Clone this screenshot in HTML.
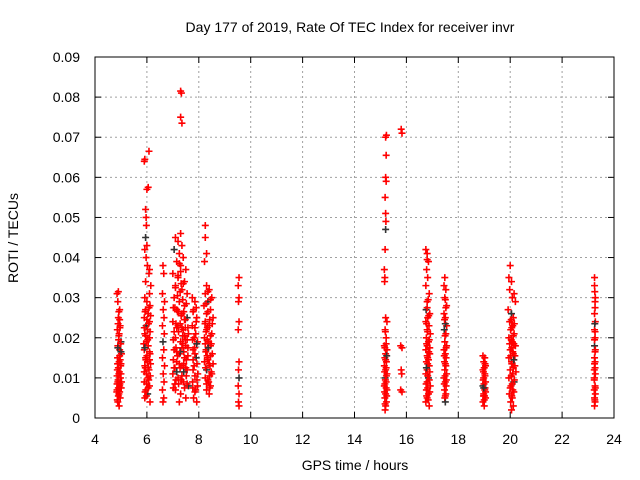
<!DOCTYPE html>
<html><head><meta charset="utf-8"><style>
body{margin:0;background:#fff}
svg{display:block;font-family:"Liberation Sans",sans-serif}
</style></head><body>
<svg id="chart" width="640" height="480" viewBox="0 0 640 480">
<rect width="640" height="480" fill="#fff"/>
<text x="350" y="32" font-size="14" text-anchor="middle">Day 177 of 2019, Rate Of TEC Index for receiver invr</text>
<text transform="translate(18,238) rotate(-90)" font-size="14" text-anchor="middle">ROTI / TECUs</text>
<text x="355" y="470" font-size="14" text-anchor="middle">GPS time / hours</text>
<g id="grid"></g>
<g id="ticks"></g>
<g id="points"></g>
<rect x="95" y="57" width="519" height="361" fill="none" stroke="#000" stroke-width="1"/>
</svg>
<script>
const xTicks=[4,6,8,10,12,14,16,18,20,22,24];
const yTicks=[0,0.01,0.02,0.03,0.04,0.05,0.06,0.07,0.08,0.09];
const yTickLabels=["0","0.01","0.02","0.03","0.04","0.05","0.06","0.07","0.08","0.09"];
const passA=[[4.85,0.031],[4.9,0.0315],[4.88,0.029],[4.95,0.027],[4.9,0.025],[4.97,0.023],[4.86,0.022],[4.93,0.021],[5.0,0.019],[4.88,0.018],[4.95,0.017],[5.02,0.016],[4.87,0.015],[4.93,0.014],[4.99,0.013],[4.86,0.012],[4.92,0.011],[4.98,0.010],[4.88,0.009],[4.95,0.008],[4.85,0.007],[4.92,0.006],[4.97,0.005],[4.88,0.004],[4.93,0.003],[5.0,0.0165],[4.9,0.0125],[4.96,0.0085],[4.9,0.0055],[4.85,0.0105],[4.97,0.0145],[4.91,0.0195],[4.85,0.0085],[5.0,0.011]];
const passA2=[[4.86,0.0045],[4.95,0.0065],[5.01,0.0075],[4.89,0.0095],[4.94,0.0115],[5.0,0.0135],[4.87,0.0135],[4.95,0.0155],[4.88,0.0175],[4.99,0.0185],[4.92,0.0205],[4.96,0.0225],[4.89,0.0235],[4.95,0.0245],[4.92,0.0265],[5.02,0.009],[4.84,0.0065],[4.9,0.0075]];
const passB=[[5.9,0.064],[5.92,0.0645],[6.08,0.0665],[6.0,0.057],[6.05,0.0575],[5.95,0.052],[5.97,0.05],[5.98,0.048],[5.95,0.045],[6.0,0.043],[5.92,0.042],[5.97,0.040],[6.02,0.038],[6.1,0.037],[6.08,0.036],[5.95,0.034],[6.15,0.033],[6.1,0.031],[5.92,0.030],[6.0,0.029],[6.12,0.028],[5.95,0.027],[6.05,0.026],[5.9,0.025],[6.1,0.024],[5.97,0.023],[6.03,0.022],[5.92,0.021],[6.1,0.020],[5.98,0.019],[6.05,0.018],[5.9,0.017],[6.12,0.016],[5.95,0.015],[6.02,0.014],[5.92,0.013],[6.08,0.012],[5.98,0.011],[6.04,0.010],[5.9,0.009],[6.1,0.008],[5.96,0.007],[6.03,0.006],[5.92,0.005],[6.12,0.004],[6.0,0.0155],[5.94,0.0125],[6.07,0.0095],[5.88,0.0185],[6.14,0.0135]];
const passB2=[[5.93,0.0065],[6.05,0.0075],[5.99,0.0085],[6.13,0.0105],[5.9,0.0115],[6.05,0.0125],[5.96,0.0145],[6.1,0.0165],[5.92,0.0175],[6.03,0.0195],[5.95,0.0205],[6.12,0.0215],[5.9,0.0225],[6.06,0.0235],[6.0,0.0245],[6.14,0.0255],[5.93,0.0265],[6.08,0.0275],[5.98,0.0055],[6.1,0.0145]];
const passC=[[6.62,0.038],[6.65,0.036],[6.6,0.031],[6.68,0.029],[6.63,0.027],[6.66,0.025],[6.6,0.023],[6.67,0.021],[6.62,0.019],[6.65,0.017],[6.6,0.015],[6.68,0.013],[6.63,0.011],[6.66,0.009],[6.6,0.007],[6.65,0.005],[6.62,0.004]];
const passD=[[7.3,0.0815],[7.33,0.081],[7.3,0.075],[7.35,0.0735],[7.1,0.045],[7.3,0.046],[7.2,0.044],[7.35,0.043],[7.05,0.042],[7.25,0.041],[7.4,0.040],[7.15,0.039],[7.3,0.038],[7.5,0.037],[7.0,0.036],[7.2,0.035],[7.45,0.034],[7.1,0.033],[7.35,0.032],[7.55,0.031],[7.05,0.030],[7.25,0.029],[7.45,0.028],[7.15,0.027],[7.35,0.026],[7.55,0.025],[7.0,0.024],[7.2,0.023],[7.4,0.022],[7.6,0.021],[7.1,0.020],[7.3,0.019],[7.5,0.018],[7.05,0.017],[7.25,0.016],[7.45,0.015],[7.15,0.014],[7.35,0.013],[7.55,0.012],[7.0,0.011],[7.2,0.010],[7.4,0.009],[7.6,0.008],[7.1,0.007],[7.3,0.006],[7.5,0.005],[7.25,0.004],[7.05,0.0215],[7.12,0.0175],[7.22,0.0265],[7.28,0.0125],[7.38,0.0205],[7.42,0.0165],[7.48,0.0245],[7.52,0.0105],[7.58,0.0155],[7.08,0.0085],[7.18,0.0305],[7.32,0.0335],[7.42,0.0115],[7.02,0.0145],[7.55,0.0195],[7.28,0.0235],[7.15,0.0225],[7.45,0.0075],[7.35,0.0175]];
const passD2=[[7.02,0.0075],[7.12,0.0095],[7.22,0.0085],[7.32,0.0095],[7.42,0.0135],[7.52,0.0145],[7.08,0.0125],[7.18,0.0155],[7.28,0.0165],[7.38,0.0185],[7.48,0.0195],[7.58,0.0225],[7.02,0.0195],[7.12,0.0235],[7.22,0.0215],[7.32,0.0255],[7.42,0.0265],[7.52,0.0285],[7.08,0.0275],[7.18,0.0265],[7.28,0.0315],[7.38,0.0295],[7.48,0.0225],[7.58,0.0175],[7.05,0.0125],[7.15,0.0115],[7.25,0.0135],[7.35,0.0105],[7.45,0.0205],[7.55,0.0085],[7.1,0.0325],[7.2,0.0355],[7.3,0.0365],[7.4,0.0335],[7.25,0.0385],[7.15,0.0165],[7.35,0.0225],[7.45,0.0245],[7.02,0.0275],[7.5,0.0125]];
const passE=[[7.75,0.030],[7.85,0.029],[7.8,0.027],[7.92,0.025],[7.75,0.023],[7.88,0.021],[7.95,0.019],[7.78,0.017],[7.9,0.015],[7.82,0.013],[7.96,0.011],[7.76,0.009],[7.88,0.007],[7.8,0.005],[7.92,0.004],[7.85,0.016],[7.78,0.012],[7.95,0.008],[7.82,0.020],[7.9,0.024]];
const passE2=[[7.85,0.0065],[7.77,0.0075],[7.93,0.0095],[7.85,0.0105],[7.78,0.0145],[7.93,0.0135],[7.84,0.0175],[7.76,0.0195],[7.92,0.0185],[7.85,0.0225],[7.78,0.0265],[7.9,0.0275]];
const passF=[[8.25,0.048],[8.25,0.045],[8.3,0.041],[8.22,0.039],[8.3,0.033],[8.4,0.032],[8.25,0.031],[8.5,0.030],[8.35,0.029],[8.2,0.028],[8.45,0.027],[8.3,0.026],[8.55,0.025],[8.25,0.024],[8.4,0.023],[8.3,0.022],[8.5,0.021],[8.22,0.020],[8.38,0.019],[8.45,0.018],[8.28,0.017],[8.52,0.016],[8.33,0.015],[8.22,0.014],[8.43,0.013],[8.3,0.012],[8.5,0.011],[8.25,0.010],[8.38,0.009],[8.45,0.008],[8.3,0.007],[8.4,0.006],[8.35,0.0145],[8.48,0.0185],[8.27,0.0165],[8.42,0.0105],[8.33,0.0225],[8.55,0.0135]];
const passF2=[[8.3,0.0085],[8.42,0.0075],[8.35,0.0095],[8.48,0.0115],[8.26,0.0125],[8.4,0.0135],[8.32,0.0155],[8.45,0.0155],[8.36,0.0175],[8.25,0.0185],[8.45,0.0205],[8.32,0.0195],[8.28,0.0215],[8.42,0.0245],[8.35,0.0265],[8.28,0.0285],[8.45,0.0295],[8.35,0.0315],[8.52,0.0235],[8.24,0.0235]];
const passG=[[9.55,0.035],[9.52,0.033],[9.55,0.030],[9.53,0.029],[9.55,0.024],[9.52,0.022],[9.55,0.014],[9.53,0.012],[9.55,0.010],[9.52,0.008],[9.55,0.006],[9.53,0.004],[9.55,0.003]];
const passH=[[15.2,0.07],[15.23,0.0705],[15.22,0.0655],[15.2,0.06],[15.22,0.059],[15.18,0.055],[15.2,0.051],[15.21,0.049],[15.2,0.047],[15.18,0.042],[15.15,0.037],[15.17,0.035],[15.16,0.034],[15.2,0.025],[15.25,0.024],[15.18,0.022],[15.22,0.020],[15.15,0.018],[15.25,0.017],[15.2,0.016],[15.17,0.015],[15.23,0.014],[15.15,0.013],[15.2,0.012],[15.25,0.011],[15.18,0.010],[15.22,0.009],[15.15,0.008],[15.25,0.007],[15.2,0.006],[15.17,0.005],[15.23,0.004],[15.2,0.003],[15.18,0.002],[15.22,0.0125],[15.17,0.0085]];
const passH2=[[15.18,0.0035],[15.24,0.0055],[15.16,0.0065],[15.22,0.0075],[15.19,0.0095],[15.23,0.0105],[15.16,0.0115],[15.2,0.0145],[15.24,0.0155],[15.17,0.0175],[15.22,0.0185],[15.19,0.0215]];
const passI=[[15.8,0.072],[15.83,0.071],[15.78,0.018],[15.83,0.0175],[15.8,0.012],[15.82,0.011],[15.78,0.007],[15.83,0.0065]];
const passJ=[[16.75,0.042],[16.8,0.041],[16.85,0.039],[16.78,0.037],[16.82,0.035],[16.75,0.033],[16.88,0.031],[16.8,0.029],[16.76,0.027],[16.9,0.026],[16.82,0.025],[16.75,0.024],[16.87,0.023],[16.8,0.022],[16.92,0.021],[16.77,0.020],[16.85,0.019],[16.8,0.018],[16.75,0.017],[16.9,0.016],[16.82,0.015],[16.77,0.014],[16.88,0.013],[16.8,0.012],[16.75,0.011],[16.85,0.010],[16.8,0.009],[16.92,0.008],[16.77,0.007],[16.85,0.006],[16.8,0.005],[16.75,0.004],[16.88,0.003],[16.82,0.0135],[16.9,0.0175]];
const passJ2=[[16.84,0.0045],[16.78,0.0055],[16.9,0.0065],[16.82,0.0075],[16.76,0.0085],[16.88,0.0095],[16.82,0.0105],[16.9,0.0115],[16.77,0.0125],[16.85,0.0145],[16.8,0.0155],[16.86,0.0165],[16.78,0.0185],[16.88,0.0195],[16.82,0.0215],[16.78,0.0235],[16.86,0.0255],[16.8,0.0275],[16.84,0.0295],[16.8,0.0395]];
const passK=[[17.48,0.035],[17.45,0.033],[17.52,0.032],[17.48,0.030],[17.55,0.028],[17.45,0.026],[17.5,0.025],[17.55,0.023],[17.46,0.022],[17.52,0.021],[17.48,0.019],[17.55,0.018],[17.45,0.017],[17.5,0.016],[17.53,0.015],[17.47,0.014],[17.52,0.013],[17.48,0.012],[17.55,0.011],[17.45,0.010],[17.5,0.009],[17.53,0.008],[17.47,0.007],[17.52,0.006],[17.48,0.005],[17.5,0.004]];
const passK2=[[17.5,0.0055],[17.46,0.0085],[17.54,0.0095],[17.49,0.0105],[17.5,0.0135],[17.46,0.0155],[17.53,0.0175],[17.49,0.0205],[17.5,0.0235],[17.47,0.0245],[17.52,0.0275],[17.5,0.0295]];
const passL=[[18.95,0.0155],[19.02,0.015],[18.98,0.014],[19.05,0.013],[18.95,0.012],[19.02,0.011],[18.98,0.010],[19.05,0.009],[18.95,0.008],[19.02,0.007],[18.98,0.006],[19.05,0.005],[18.95,0.004],[19.0,0.003],[19.05,0.0065],[18.96,0.0095]];
const passL2=[[19.0,0.0045],[18.97,0.0055],[19.03,0.0075],[18.99,0.0085],[19.03,0.0105],[18.97,0.0115],[19.0,0.0125],[19.03,0.0135],[18.98,0.0075],[19.01,0.0055]];
const passM=[[20.0,0.038],[19.95,0.035],[20.05,0.034],[19.98,0.032],[20.15,0.031],[20.08,0.030],[20.2,0.029],[19.92,0.027],[20.05,0.026],[20.12,0.025],[19.98,0.024],[20.1,0.023],[20.02,0.022],[20.15,0.021],[19.95,0.020],[20.08,0.019],[20.2,0.018],[20.0,0.017],[20.12,0.016],[19.95,0.015],[20.05,0.014],[20.18,0.013],[20.0,0.012],[20.1,0.011],[19.95,0.010],[20.15,0.009],[20.03,0.008],[20.1,0.007],[19.97,0.006],[20.08,0.005],[20.02,0.004],[20.12,0.003],[20.05,0.002],[20.18,0.0155],[19.98,0.0185],[20.22,0.0115]];
const passM2=[[20.06,0.0055],[20.14,0.0065],[20.0,0.0075],[20.08,0.0085],[20.16,0.0095],[20.04,0.0105],[20.12,0.0125],[20.06,0.0135],[20.14,0.0145],[20.02,0.0155],[20.1,0.0165],[20.06,0.0175],[20.14,0.0185],[20.04,0.0195],[20.12,0.0205],[20.06,0.0225],[20.16,0.0235],[20.04,0.0245]];
const passN=[[23.25,0.035],[23.25,0.033],[23.28,0.030],[23.27,0.029],[23.25,0.026],[23.28,0.024],[23.25,0.022],[23.27,0.020],[23.25,0.018],[23.28,0.017],[23.25,0.015],[23.27,0.014],[23.24,0.012],[23.28,0.011],[23.25,0.010],[23.27,0.008],[23.24,0.007],[23.28,0.006],[23.25,0.005],[23.27,0.004],[23.25,0.003]];
const passN2=[[23.26,0.0045],[23.28,0.0075],[23.24,0.0095],[23.27,0.0125],[23.25,0.0135],[23.27,0.0165],[23.25,0.0195],[23.27,0.0215],[23.26,0.0235],[23.27,0.0275],[23.26,0.0315]];
const passes=[passA,passA2,passB,passB2,passC,passD,passD2,passE,passE2,passF,passF2,passG,passH,passH2,passI,passJ,passJ2,passK,passK2,passL,passL2,passM,passM2,passN,passN2];

const X0=95,X1=614,Y0=418,Y1=57,xMin=4,xMax=24,yMin=0,yMax=0.09;
function sx(t){return X0+(t-xMin)/(xMax-xMin)*(X1-X0);}
function sy(v){return Y0-(v-yMin)/(yMax-yMin)*(Y0-Y1);}
const NS="http://www.w3.org/2000/svg";
function mk(tag,attrs,parent){const e=document.createElementNS(NS,tag);for(const k in attrs)e.setAttribute(k,attrs[k]);parent.appendChild(e);return e;}
const grid=document.getElementById('grid'),ticks=document.getElementById('ticks'),pts=document.getElementById('points');
xTicks.forEach(t=>{
  const x=sx(t);
  if(t>xMin&&t<xMax){const g=mk('line',{x1:x,x2:x,y1:Y0,y2:Y1,stroke:'#a0a0a0','stroke-dasharray':'2,3'},grid);
  
  }
  mk('line',{x1:x,x2:x,y1:Y0,y2:Y0-6,stroke:'#000'},ticks);
  mk('line',{x1:x,x2:x,y1:Y1,y2:Y1+6,stroke:'#000'},ticks);
  const l=mk('text',{x:x,y:Y0+26,'font-size':14,'text-anchor':'middle'},ticks);
  l.textContent=t;
  
  
});
yTicks.forEach((v,i)=>{
  const y=sy(v);
  if(i>0&&i<yTicks.length-1){const g=mk('line',{x1:X0,x2:X1,y1:y,y2:y,stroke:'#a0a0a0','stroke-dasharray':'2,3'},grid);
  
  }
  mk('line',{x1:X0,x2:X0+6,y1:y,y2:y,stroke:'#000'},ticks);
  mk('line',{x1:X1,x2:X1-6,y1:y,y2:y,stroke:'#000'},ticks);
  const l=mk('text',{x:X0-15,y:y+5,'font-size':14,'text-anchor':'end'},ticks);
  l.textContent=yTickLabels[i];
  
  
});
passes.forEach((p,pi)=>{
  p.forEach((d,j)=>{
    const x=sx(d[0]),y=sy(d[1]);
    const col=(j%17===8)?'#333':'#ff0000';
    const g=mk('path',{d:`M${x-3.5},${y}H${x+3.5}M${x},${y-3.5}V${y+3.5}`,stroke:col,'stroke-width':1.6,fill:'none'},pts);
    
    
  });
});
</script>
</body></html>
